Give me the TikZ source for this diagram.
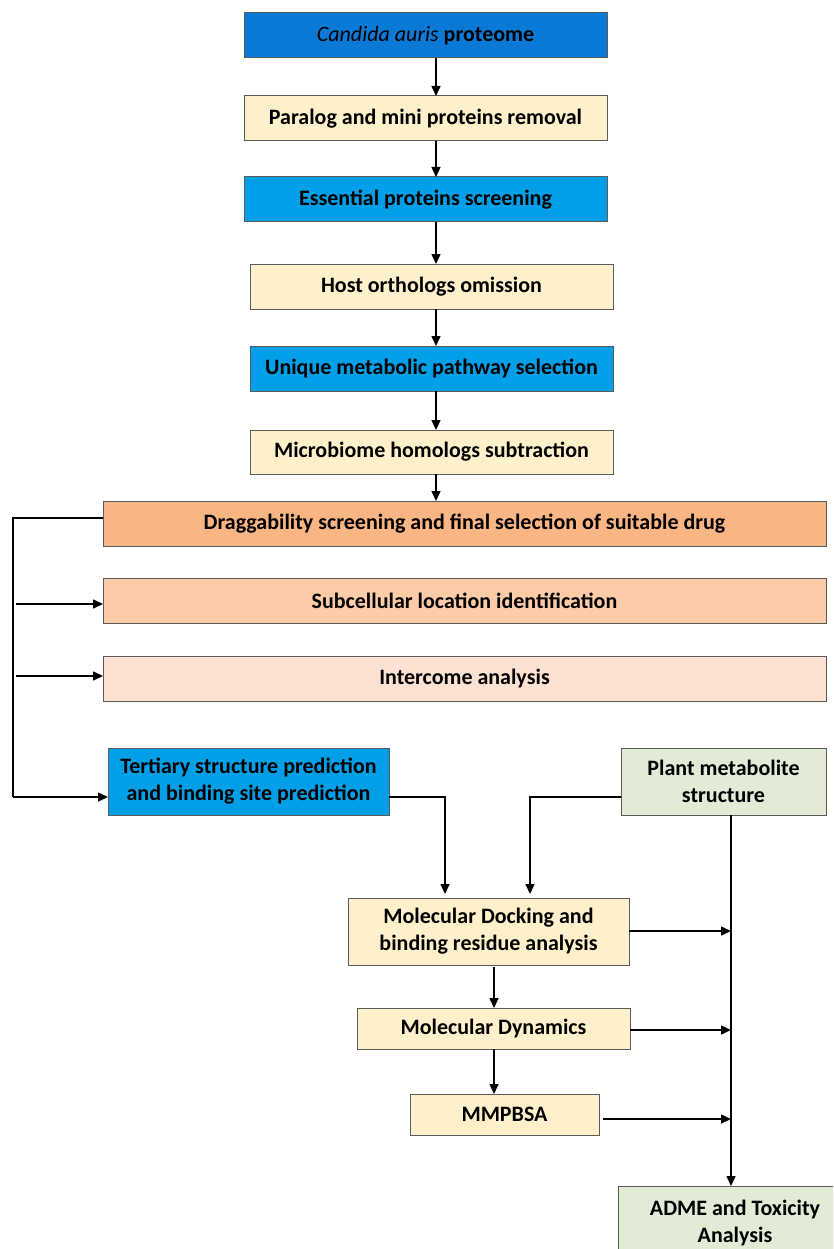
\documentclass[tikz,border=0pt]{standalone}
\usepackage{fontspec}
\setmainfont{Carlito}
\usetikzlibrary{arrows.meta}
\definecolor{dblue}{HTML}{0A7AD6}
\definecolor{lblue}{HTML}{009FE8}
\definecolor{cream}{HTML}{FEF0CA}
\definecolor{orng}{HTML}{FAB584}
\definecolor{peach}{HTML}{FCCBA7}
\definecolor{lpeach}{HTML}{FDE2D4}
\definecolor{lgreen}{HTML}{E2EBD6}
\definecolor{bord}{HTML}{5A5A5A}
\begin{document}
\begin{tikzpicture}[x=1pt,y=-1pt,
  bx/.style={draw=bord,line width=1pt,inner sep=0pt,outer sep=0pt,align=center,
    font=\fontsize{22}{27}\selectfont\bfseries},
  ln/.style={line width=1.5pt,black},
  arr/.style={ln,-{Triangle[length=10pt,width=9pt]}}]
\clip (0,0) rectangle (833,1249);
\fill[white] (0,0) rectangle (833,1249);
% top chain
\node[bx,fill=dblue,minimum width=363,minimum height=45] (b1) at (425.5,35.5) {\mdseries\itshape Candida auris \bfseries\upshape proteome};
\node[bx,fill=cream,minimum width=363,minimum height=45] (b2) at (425.5,118.5) {Paralog and mini proteins removal};
\node[bx,fill=lblue,minimum width=363,minimum height=45] (b3) at (425.5,199.5) {Essential proteins screening};
\node[bx,fill=cream,minimum width=363,minimum height=45] (b4) at (431.5,286.5) {Host orthologs omission};
\node[bx,fill=lblue,minimum width=363,minimum height=45] (b5) at (431.5,368.5) {Unique metabolic pathway selection};
\node[bx,fill=cream,minimum width=363,minimum height=44] (b6) at (431.5,452) {Microbiome homologs subtraction};
\node[bx,fill=orng,minimum width=723,minimum height=45] (b7) at (464.5,523.5) {Draggability screening and final selection of suitable drug};
\node[bx,fill=peach,minimum width=723,minimum height=45] (b8) at (464.5,600.5) {Subcellular location identification};
\node[bx,fill=lpeach,minimum width=723,minimum height=45] (b9) at (464.5,678.5) {Intercome analysis};
\node[bx,fill=lblue,minimum width=281,minimum height=67] (b10) at (248.5,781.5) {Tertiary structure prediction\\and binding site prediction};
\node[bx,fill=lgreen,minimum width=205,minimum height=67] (b11) at (723.5,781.5) {Plant metabolite\\structure};
\node[bx,fill=cream,minimum width=281,minimum height=67] (b12) at (488.5,931.5) {Molecular Docking and\\binding residue analysis};
\node[bx,fill=cream,minimum width=273,minimum height=41] (b13) at (493.5,1028.5) {Molecular Dynamics};
\node[bx,fill=cream,minimum width=189,minimum height=41] (b14) at (504.5,1114.5) {MMPBSA};
\node[bx,fill=lgreen,minimum width=234,minimum height=74] (b15) at (735,1223) {ADME and Toxicity\\Analysis};
% coordinates
\coordinate (ax) at (436,0);
\coordinate (dx) at (494,0);
\coordinate (vx) at (731,0);
\coordinate (lt) at (13,518);
\coordinate (lb) at (13,797);
\coordinate (s8) at (16,604);
\coordinate (s9) at (16,676);
\coordinate (t1) at (445,797);
\coordinate (p1) at (530,797);
\coordinate (r1) at (731,931);
\coordinate (r2) at (731,1030);
\coordinate (r3) at (731,1119);
% top arrows
\draw[arr] (b1.south -| ax) -- (b2.north -| ax);
\draw[arr] (b2.south -| ax) -- (b3.north -| ax);
\draw[arr] (b3.south -| ax) -- (b4.north -| ax);
\draw[arr] (b4.south -| ax) -- (b5.north -| ax);
\draw[arr] (b5.south -| ax) -- (b6.north -| ax);
\draw[arr] (b6.south -| ax) -- (b7.north -| ax);
% left bracket
\draw[ln] (lt -| b7.west) -- (lt) -- (lb);
\draw[arr] (lb) -- (lb -| b10.west);
\draw[arr] (s8) -- (s8 -| b8.west);
\draw[arr] (s9) -- (s9 -| b9.west);
% into docking
\draw[arr,shorten >=4pt] (t1 -| b10.east) -| (b12.north -| t1);
\draw[arr,shorten >=4pt] (p1 -| b11.west) -| (b12.north -| p1);
% plant vertical
\draw[arr] (b11.south -| vx) -- (b15.north -| vx);
\draw[arr] (r1 -| b12.east) -- (r1);
\draw[arr] (r2 -| b13.east) -- (r2);
\draw[arr,shorten <=4pt] (r3 -| b14.east) -- (r3);
% down chain
\draw[arr,shorten <=2pt] (b12.south -| dx) -- (b13.north -| dx);
\draw[arr] (b13.south -| dx) -- (b14.north -| dx);
\end{tikzpicture}
\end{document}
